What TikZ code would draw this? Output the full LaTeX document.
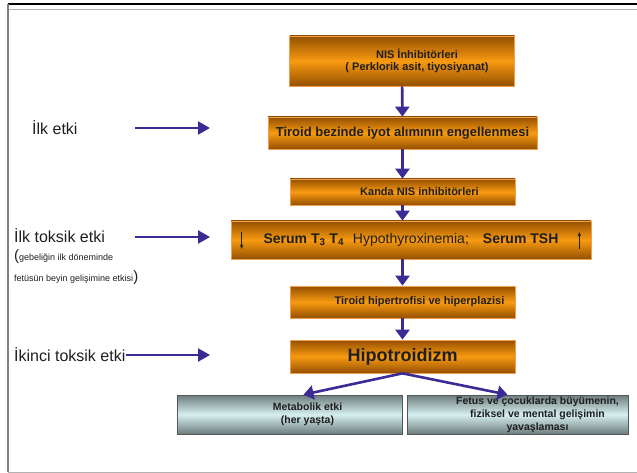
\documentclass[tikz,border=0pt]{standalone}
\usepackage{fontspec}
\setmainfont{Liberation Sans}
\usetikzlibrary{arrows.meta}
\definecolor{arrowc}{HTML}{3A2C94}
\definecolor{odark}{HTML}{945000}
\definecolor{omid}{HTML}{F89A12}
\definecolor{oedge}{HTML}{F0A050}
\definecolor{gdark}{HTML}{6E7C7C}
\definecolor{glight}{HTML}{D6F0F0}
\definecolor{gedge}{HTML}{505858}
\definecolor{txt}{HTML}{1E1E1E}
\begin{document}
\begin{tikzpicture}[x=1pt,y=-1pt,
  obox/.style={draw=oedge, line width=0.7pt, top color=odark, bottom color=odark, middle color=omid, inner sep=0pt, align=center, text=txt},
  gbox/.style={draw=gedge, line width=0.7pt, top color=gdark, bottom color=gdark, middle color=glight, inner sep=0pt, align=center, text=txt},
  flow/.style={draw=arrowc, line width=2.6pt, -{Triangle[length=10pt,width=14pt]}},
  side/.style={draw=arrowc, line width=2.2pt, -{Triangle[length=12pt,width=13pt]}},
  thinarrow/.style={draw=txt, line width=0.9pt, -{Stealth[length=4.5pt,width=3.5pt]}},
  lab/.style={anchor=west, inner sep=0pt, text=txt, font=\fontsize{16}{18}\selectfont},
  small/.style={anchor=west, inner sep=0pt, text=txt, font=\fontsize{9}{10}\selectfont},
]
\useasboundingbox (0,0) rectangle (637,473);
% frame
\draw[black, line width=1.5pt] (8,4) -- (637,4);
\draw[gray!60, line width=1pt] (8,10) -- (637,10);
\draw[gray, line width=2pt] (8,4) -- (8,472);
\draw[gray!60, line width=1pt] (8,472) -- (637,472);

% flow boxes
\node[obox, minimum width=225pt, minimum height=50pt, font=\bfseries\fontsize{11}{12}\selectfont] (b1) at (402,61)
  {\hspace*{30pt}NIS İnhibitörleri\\\hspace*{30pt}( Perklorik asit, tiyosiyanat)};
\node[obox, minimum width=269pt, minimum height=32pt, font=\bfseries\fontsize{13}{15}\selectfont] (b2) at (402.5,133)
  {Tiroid bezinde iyot alımının engellenmesi};
\node[obox, minimum width=225pt, minimum height=26pt, font=\bfseries\fontsize{11}{13}\selectfont] (b3) at (402.5,192)
  {\hspace*{34pt}Kanda NIS inhibitörleri};
\node[obox, minimum width=360pt, minimum height=38pt, font=\fontsize{14}{16}\selectfont] (b4) at (411,240)
  {\textbf{Serum T\textsubscript{3} T\textsubscript{4}}\hspace{9pt}Hypothyroxinemia;\hspace{14pt}\textbf{Serum TSH}};
\draw[thinarrow] ([xshift=11pt,yshift=8pt]b4.west) -- ([xshift=11pt,yshift=-9pt]b4.west);
\draw[thinarrow] ([xshift=-12pt,yshift=-9pt]b4.east) -- ([xshift=-12pt,yshift=8pt]b4.east);
\node[obox, minimum width=225pt, minimum height=32pt, font=\bfseries\fontsize{11}{13}\selectfont] (b5) at (402.5,302)
  {\hspace*{34pt}Tiroid hipertrofisi ve hiperplazisi};
\node[obox, minimum width=225pt, minimum height=33pt, font=\bfseries\fontsize{18}{20}\selectfont] (b6) at (402.5,356.5)
  {Hipotroidizm};
\node[gbox, minimum width=225pt, minimum height=39pt, font=\bfseries\fontsize{10.5}{12.5}\selectfont] (bl) at (289.5,414.5)
  {\hspace*{36pt}Metabolik etki\\\hspace*{36pt}(her yaşta)};
\node[gbox, minimum width=221pt, minimum height=39pt, font=\bfseries\fontsize{10.5}{13}\selectfont] (br) at (517.5,414.5)
  {\hspace*{40pt}Fetus ve çocuklarda büyümenin,\\\hspace*{40pt}fiziksel ve mental gelişimin\\\hspace*{40pt}yavaşlaması};

% flow arrows
\draw[flow] (b1) -- (b2);
\draw[flow] (b2) -- (b3);
\draw[flow] (b3.south) -- (b3.south |- b4.north);
\draw[flow] (b5.north |- b4.south) -- (b5.north);
\draw[flow] (b5) -- (b6);
\draw[flow] (b6.south) -- ([xshift=14pt]bl.north);
\draw[flow] (b6.south) -- ([xshift=-10pt]br.north);

% side labels
\node[lab] (l1) at (32,128) {İlk etki};
\coordinate (l1s) at (135,128);
\coordinate (l1e) at (210,128);
\draw[side] (l1s) -- (l1e);

\node[lab] (l2) at (14,236) {İlk toksik etki};
\coordinate (l2s) at (135,237);
\coordinate (l2e) at (210,237);
\draw[side] (l2s) -- (l2e);
\node[small] (l2a) at (14,257) {{\fontsize{15}{15}\selectfont(}gebeliğin ilk döneminde};
\node[small] (l2b) at (14,278) {fetüsün beyin gelişimine etkisi{\fontsize{15}{15}\selectfont)}};

\node[lab] (l3) at (14,355) {İkinci toksik etki};
\coordinate (l3e) at (210,355);
\draw[side] (l3.east) -- (l3e);
\end{tikzpicture}
\end{document}
